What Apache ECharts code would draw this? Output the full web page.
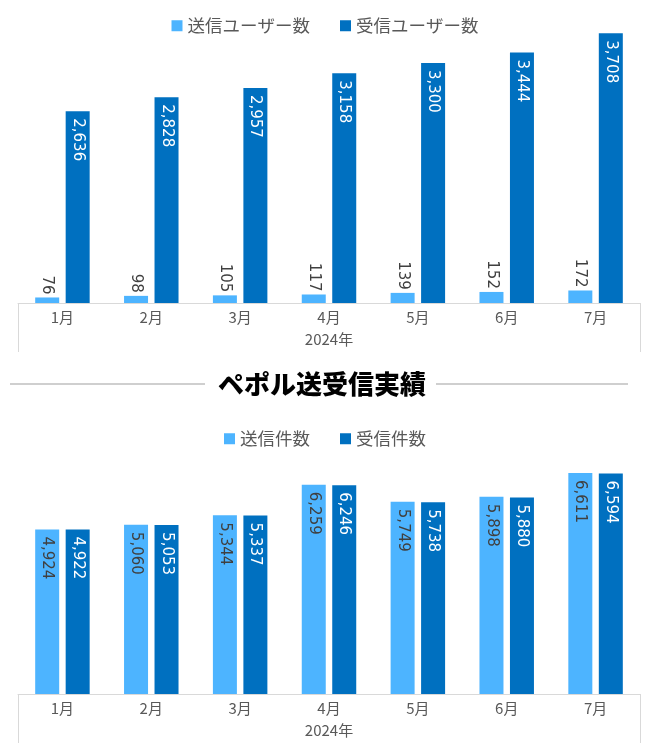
<!DOCTYPE html>
<html><head><meta charset="utf-8">
<script src="https://cdn.jsdelivr.net/npm/echarts@6/dist/echarts.min.js"></script>
<style>html,body{margin:0;padding:0;background:#fff}#c{width:650px;height:752px}</style>
</head><body><div id="c"></div>
<script>
const categories = ['1月','2月','3月','4月','5月','6月','7月'];
const yearLabel = ['2024年'];
const sendUsers = [76, 98, 105, 117, 139, 152, 172];
const recvUsers = [2636, 2828, 2957, 3158, 3300, 3444, 3708];
const sendCount = [4924, 5060, 5344, 6259, 5749, 5898, 6611];
const recvCount = [4922, 5053, 5337, 6246, 5738, 5880, 6594];
const seriesNames = ['送信ユーザー数','受信ユーザー数','送信件数','受信件数'];
const titleText = 'ペポル送受信実績';

const LIGHT = '#4DB4FF', DARK = '#0070C0', GRAY = '#595959', AX = '#d9d9d9';
const jp = '"Noto Sans CJK JP", sans-serif';
const num = '"DejaVu Sans", Verdana, sans-serif';
const fmt = p => Number(p.value).toLocaleString('en-US');

function monthAxis(gi){
  return {type:'category', gridIndex:gi, data:categories, position:'bottom',
    axisLine:{show:true, lineStyle:{color:AX, width:1}}, axisTick:{show:false},
    axisLabel:{color:GRAY, fontFamily:jp, fontSize:15, margin:7}};
}
function yearAxis(gi){
  return {type:'category', gridIndex:gi, data:yearLabel, position:'bottom',
    axisLine:{show:false}, axisTick:{show:true, length:49, lineStyle:{color:AX}},
    axisLabel:{color:GRAY, fontFamily:jp, fontSize:15, margin:29}};
}
function valAxis(gi, max){
  return {type:'value', gridIndex:gi, min:0, max:max, show:false, splitLine:{show:false}};
}
const insideLabel = (color) => ({show:true, position:'insideTop', rotate:-90, align:'left', verticalAlign:'middle',
  distance:7, color:color, fontFamily:num, fontSize:15, formatter:fmt});

const chart = echarts.init(document.getElementById('c'), null, {renderer:'canvas'});
chart.setOption({
  animation:false,
  backgroundColor:'#fff',
  title:{text:titleText, left:213, top:366, textStyle:{fontFamily:jp, fontSize:26, fontWeight:900, color:'#000'}},
  legend:[
    {data:[seriesNames[0], seriesNames[1]], top:12, left:'center', itemWidth:11, itemHeight:11, itemGap:30,
     icon:'rect', textStyle:{color:GRAY, fontFamily:jp, fontSize:17.5}},
    {data:[seriesNames[2], seriesNames[3]], top:425, left:'center', itemWidth:11, itemHeight:11, itemGap:30,
     icon:'rect', textStyle:{color:GRAY, fontFamily:jp, fontSize:17.5}}
  ],
  grid:[
    {left:18, right:10, top:12, height:291},
    {left:18, right:10, top:460, height:234}
  ],
  xAxis:[monthAxis(0), yearAxis(0), monthAxis(1), yearAxis(1)],
  yAxis:[valAxis(0, 4000), valAxis(1, 7000)],
  graphic:[
    {type:'line', shape:{x1:10, y1:384, x2:205, y2:384}, style:{stroke:'#bfbfbf', lineWidth:1.5}},
    {type:'line', shape:{x1:436, y1:384, x2:628, y2:384}, style:{stroke:'#bfbfbf', lineWidth:1.5}}
  ],
  series:[
    {name:seriesNames[0], type:'bar', xAxisIndex:0, yAxisIndex:0, data:sendUsers, barWidth:24, barGap:'27%',
     itemStyle:{color:LIGHT},
     label:{show:true, position:'top', rotate:-90, align:'right', verticalAlign:'middle', distance:3,
            color:'#404040', fontFamily:num, fontSize:15, formatter:fmt}},
    {name:seriesNames[1], type:'bar', xAxisIndex:0, yAxisIndex:0, data:recvUsers, barWidth:24,
     itemStyle:{color:DARK}, label:insideLabel('#fff')},
    {name:seriesNames[2], type:'bar', xAxisIndex:2, yAxisIndex:1, data:sendCount, barWidth:24, barGap:'27%',
     itemStyle:{color:LIGHT}, label:insideLabel('#404040')},
    {name:seriesNames[3], type:'bar', xAxisIndex:2, yAxisIndex:1, data:recvCount, barWidth:24,
     itemStyle:{color:DARK}, label:insideLabel('#fff')}
  ]
});
</script></body></html>
